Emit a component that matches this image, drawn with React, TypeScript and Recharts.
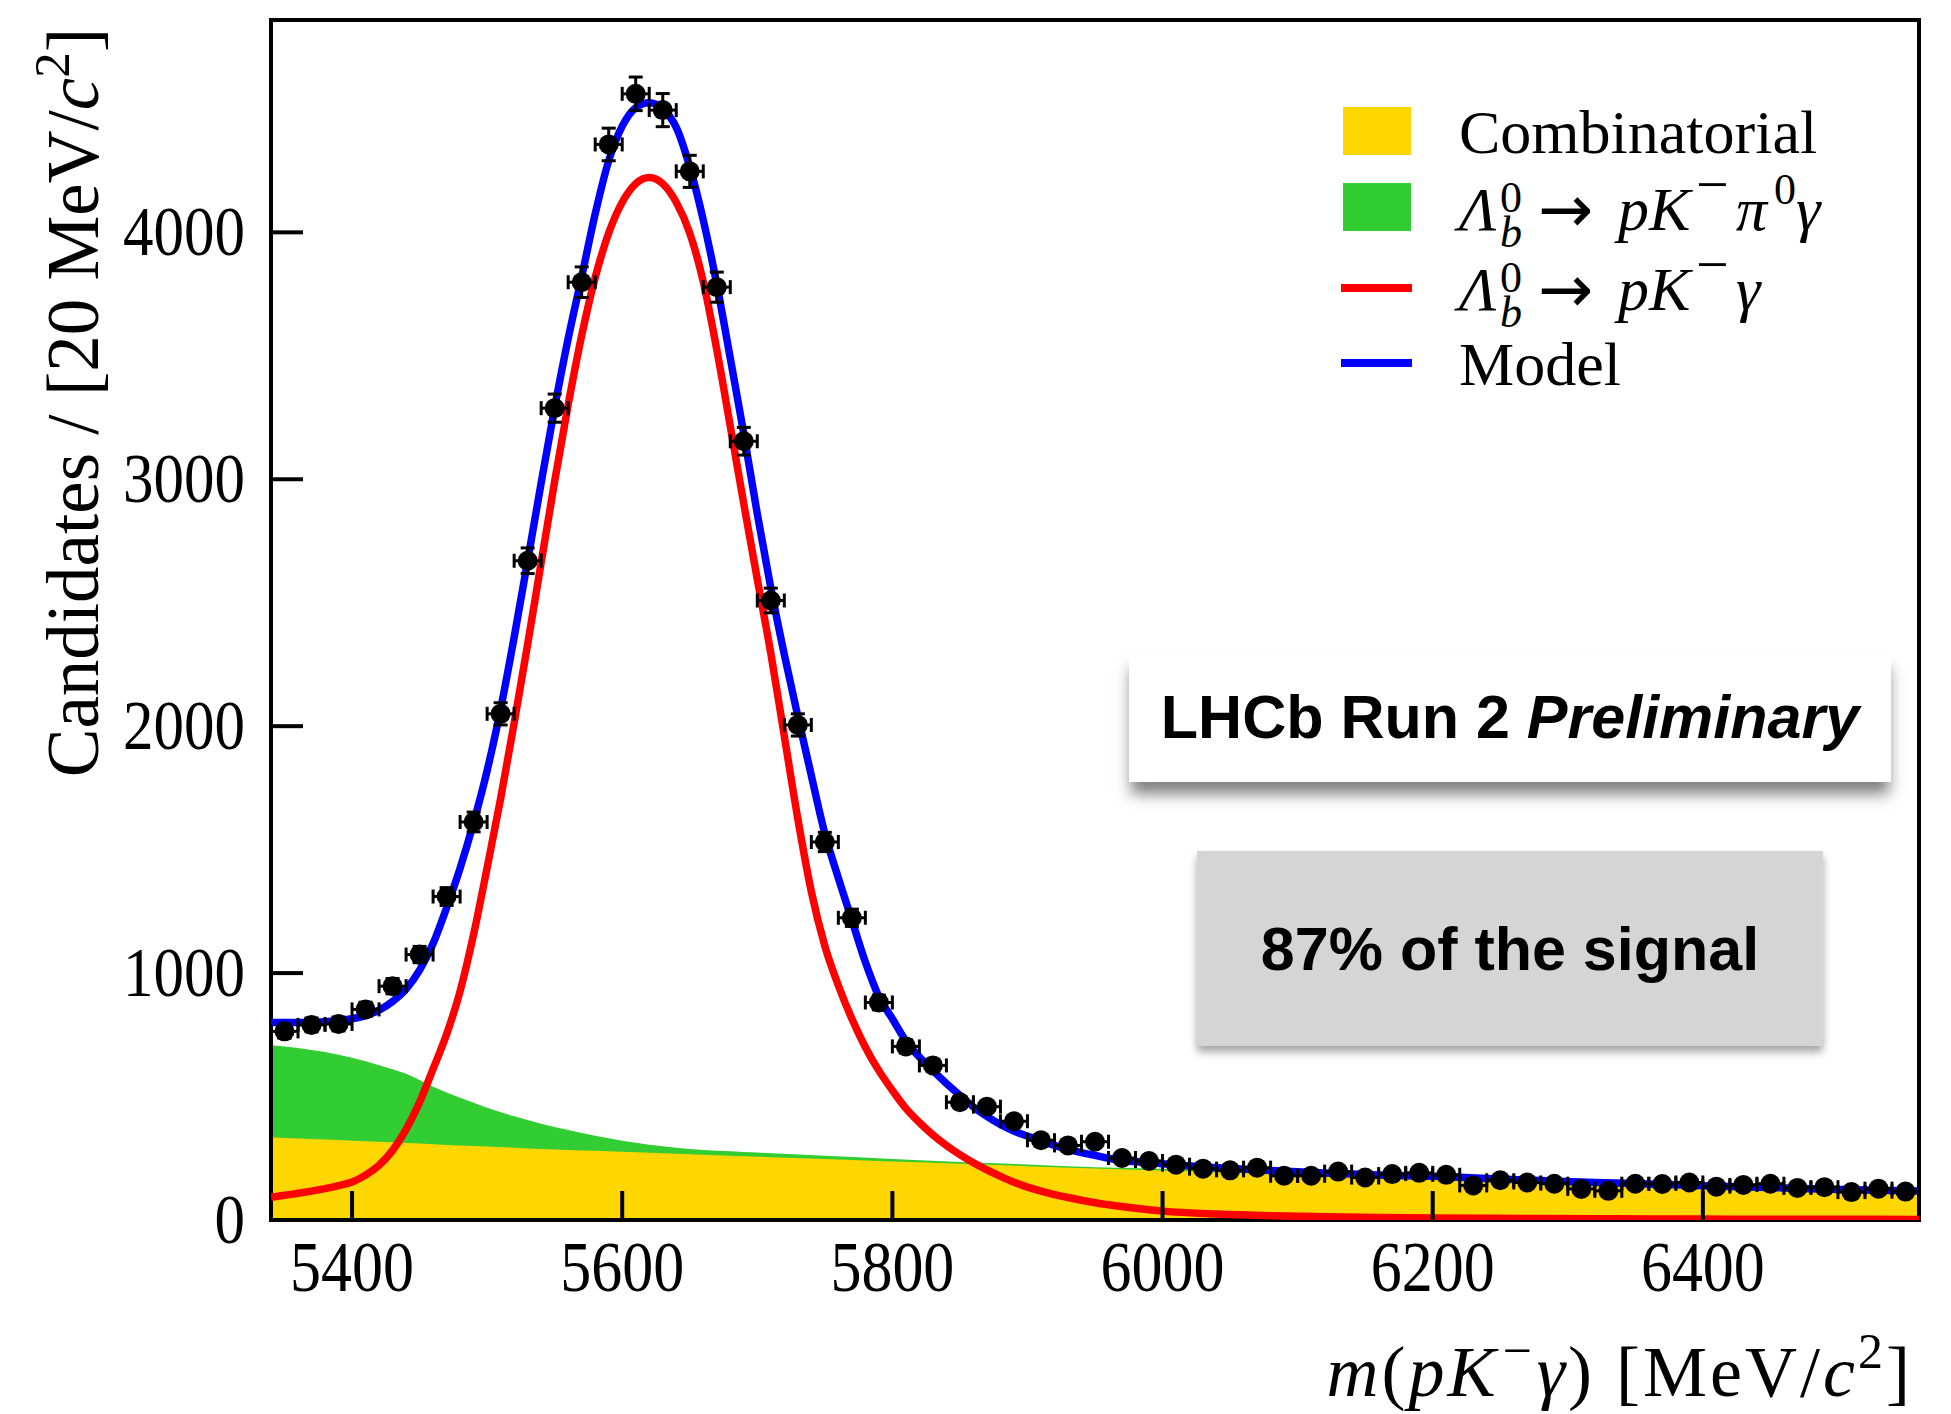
import {
  Area,
  ComposedChart,
  ErrorBar,
  Label,
  Line,
  ReferenceArea,
  Scatter,
  XAxis,
  YAxis,
} from "recharts";

// binned data: bin centres [MeV/c^2], candidates per 20 MeV/c^2, stat. error
const binCentres = [
  5350, 5370, 5390, 5410, 5430, 5450, 5470, 5490, 5510, 5530, 5550, 5570, 5590, 5610, 5630, 5650,
  5670, 5690, 5710, 5730, 5750, 5770, 5790, 5810, 5830, 5850, 5870, 5890, 5910, 5930, 5950, 5970,
  5990, 6010, 6030, 6050, 6070, 6090, 6110, 6130, 6150, 6170, 6190, 6210, 6230, 6250, 6270, 6290,
  6310, 6330, 6350, 6370, 6390, 6410, 6430, 6450, 6470, 6490, 6510, 6530, 6550,
];
const candidates = [
  764, 790, 794, 853, 947, 1075, 1310, 1612, 2050, 2670, 3288, 3798, 4356, 4561, 4495, 4247,
  3778, 3154, 2509, 2005, 1531, 1224, 881, 703, 626, 477, 459, 400, 323, 302, 317, 251,
  239, 224, 208, 201, 212, 179, 179, 196, 172, 186, 191, 183, 140, 161, 152, 147,
  126, 118, 147, 146, 152, 135, 142, 147, 130, 133, 113, 127, 115,
];
const candidateErrors = [
  28, 28, 28, 29, 31, 33, 36, 40, 45, 52, 57, 62, 66, 68, 67, 65,
  61, 56, 50, 45, 39, 35, 30, 27, 25, 22, 21, 20, 18, 17, 18, 16,
  15, 15, 14, 14, 15, 13, 13, 14, 13, 14, 14, 14, 12, 13, 12, 12,
  11, 11, 12, 12, 12, 12, 12, 12, 11, 12, 11, 11, 11,
];
const binHalfWidth = 10;

// fit curves: signal and total model
const curveMass = [
  5340, 5350, 5360, 5370, 5380, 5390, 5400, 5410, 5420, 5430, 5440, 5450, 5460, 5470, 5480, 5490,
  5500, 5510, 5520, 5530, 5540, 5550, 5560, 5570, 5580, 5590, 5600, 5610, 5620, 5630, 5640, 5650,
  5660, 5670, 5680, 5690, 5700, 5710, 5720, 5730, 5740, 5750, 5760, 5770, 5780, 5790, 5800, 5810,
  5820, 5830, 5840, 5850, 5860, 5870, 5880, 5890, 5900, 5910, 5920, 5930, 5940, 5950, 5960, 6000,
  6040, 6080, 6120, 6160, 6200, 6240, 6280, 6320, 6360, 6400, 6440, 6480, 6520, 6560,
];
const signalCurve = [
  92, 100, 108, 117, 127, 139, 154, 182, 222, 282, 367, 477, 612, 752, 927, 1157,
  1427, 1707, 2012, 2332, 2662, 2992, 3302, 3582, 3817, 3997, 4122, 4197, 4222, 4197, 4122, 3997,
  3800, 3525, 3215, 2900, 2595, 2295, 1960, 1625, 1330, 1110, 950, 815, 700, 605, 525, 452,
  395, 345, 302, 265, 232, 203, 177, 153, 133, 117, 103, 91, 80, 70, 62, 36,
  24, 17, 13, 10, 8, 7, 6, 5, 4, 4, 3, 3, 3, 2,
];
const modelCurve = [
  800, 800, 800, 801, 803, 808, 815, 828, 850, 885, 935, 1012, 1120, 1265, 1425, 1610,
  1820, 2070, 2360, 2670, 2985, 3290, 3570, 3820, 4075, 4290, 4430, 4505, 4525, 4500, 4425, 4265,
  4050, 3790, 3490, 3185, 2860, 2560, 2290, 2040, 1800, 1565, 1385, 1215, 1045, 905, 815, 725,
  660, 605, 553, 505, 458, 420, 387, 360, 340, 320, 302, 286, 273, 262, 250, 228,
  212, 200, 190, 182, 177, 168, 160, 152, 146, 139, 133, 127, 121, 117,
];

// background components (stacked): combinatorial and combinatorial + pK-pi0gamma
const bkgMass = [
  5340, 5360, 5380, 5400, 5420, 5440, 5460, 5480, 5500, 5520, 5540, 5560, 5580, 5600, 5620, 5640,
  5660, 5680, 5700, 5750, 5800, 5850, 5900, 5950, 6000, 6100, 6200, 6300, 6400, 6500, 6560,
];
const combinatorialCurve = [
  335, 330, 326, 321, 317, 312, 307, 302, 298, 293, 288, 284, 280, 276, 272, 268,
  264, 260, 256, 247, 237, 228, 218, 209, 200, 184, 168, 152, 136, 119, 110,
];
const partRecoTop = [
  708, 697, 680, 657, 627, 592, 540, 495, 455, 420, 390, 364, 341, 321, 305, 293,
  284, 278, 273, 260, 247, 235, 225, 214, 208, 193, 175, 158, 141, 124, 116,
];

const xTicks = [5400, 5600, 5800, 6000, 6200, 6400];
const yTicks = [0, 1000, 2000, 3000, 4000];

const points = binCentres.map((m, i) => ({
  m,
  n: candidates[i],
  err: candidateErrors[i],
  xerr: binHalfWidth,
}));
const curves = curveMass.map((m, i) => ({ m, signal: signalCurve[i], model: modelCurve[i] }));
const bkg = bkgMass.map((m, i) => ({ m, comb: combinatorialCurve[i], partReco: partRecoTop[i] }));

const SERIF = "'Liberation Serif', 'DejaVu Serif', serif";
const SANS = "'Liberation Sans', Arial, sans-serif";

function MassTick({ x, y, payload }: any) {
  return (
    <g>
      <line x1={x} x2={x} y1={y} y2={y - 29} stroke="#000" strokeWidth={4} />
      <text
        transform={`translate(${x} ${y + 71}) scale(1 1.15)`}
        textAnchor="middle"
        fontFamily={SERIF}
        fontSize={62}
        fill="#000"
      >
        {payload.value}
      </text>
    </g>
  );
}

function CountTick({ x, y, payload }: any) {
  return (
    <g>
      <line x1={x} x2={x + 32} y1={y} y2={y} stroke="#000" strokeWidth={4} />
      <text
        transform={`translate(${x - 26} ${y + 23}) scale(1 1.15)`}
        textAnchor="end"
        fontFamily={SERIF}
        fontSize={61}
        fill="#000"
      >
        {payload.value}
      </text>
    </g>
  );
}

function XTitle({ viewBox }: any) {
  const { x, y, width } = viewBox;
  return (
    <text
      x={x + width - 6}
      y={y + 176}
      textAnchor="end"
      fontFamily={SERIF}
      fontSize={72}
      letterSpacing={3}
      fill="#000"
    >
      <tspan fontStyle="italic">m</tspan>(<tspan fontStyle="italic">pK</tspan>
      <tspan dx={4} dy={-28} fontSize={52}>−</tspan>
      <tspan dx={2} dy={28} fontStyle="italic">γ</tspan>) [MeV/<tspan fontStyle="italic">c</tspan>
      <tspan dy={-28} fontSize={50}>2</tspan>
      <tspan dy={28}>]</tspan>
    </text>
  );
}

function YTitle({ viewBox }: any) {
  const { x, y } = viewBox;
  return (
    <text
      transform={`translate(${x - 172} ${y + 8}) rotate(-90)`}
      textAnchor="end"
      fontFamily={SERIF}
      fontSize={73}
      fill="#000"
    >
      Candidates / [20 MeV/<tspan fontStyle="italic">c</tspan>
      <tspan dy={-29} fontSize={51}>2</tspan>
      <tspan dy={29}>]</tspan>
    </text>
  );
}

function LambdaB({ y }: { y: number }) {
  return (
    <>
      <text x={151} y={y} fontFamily={SERIF} fontSize={62} fontStyle="italic">Λ</text>
      <text x={192} y={y - 18} fontFamily={SERIF} fontSize={44}>0</text>
      <text x={192} y={y + 17} fontFamily={SERIF} fontSize={44} fontStyle="italic">b</text>
      <text x={230} y={y + 2} fontFamily="'DejaVu Sans', sans-serif" fontSize={66}>→</text>
    </>
  );
}

function FitLegend() {
  return (
    <svg
      width={620}
      height={340}
      style={{ position: "absolute", left: 1300, top: 70, overflow: "visible" }}
    >
      <rect x={35} y={29} width={68} height={48} fill="#ffd700" />
      <text x={151} y={75} fontFamily={SERIF} fontSize={62}>Combinatorial</text>

      <rect x={35} y={105} width={68} height={48} fill="#32cd32" />
      <LambdaB y={152} />
      <text y={152} fontFamily={SERIF} fontSize={62} fontStyle="italic">
        <tspan x={310}>pK</tspan>
        <tspan x={388} dy={-26} fontSize={58} fontStyle="normal">−</tspan>
        <tspan x={428} dy={26}>π</tspan>
        <tspan x={466} dy={-26} fontSize={44} fontStyle="normal">0</tspan>
        <tspan x={488} dy={26}>γ</tspan>
      </text>

      <line x1={33} x2={104} y1={210} y2={210} stroke="#ff0000" strokeWidth={8} />
      <LambdaB y={232} />
      <text y={232} fontFamily={SERIF} fontSize={62} fontStyle="italic">
        <tspan x={310}>pK</tspan>
        <tspan x={388} dy={-26} fontSize={58} fontStyle="normal">−</tspan>
        <tspan x={428} dy={26}>γ</tspan>
      </text>

      <line x1={33} x2={104} y1={285} y2={285} stroke="#0000ff" strokeWidth={8} />
      <text x={151} y={307} fontFamily={SERIF} fontSize={62}>Model</text>
    </svg>
  );
}

export default function App() {
  return (
    <div style={{ position: "relative", width: 1935, height: 1406 }}>
      <ComposedChart width={1935} height={1406} margin={{ top: 12, right: 24, bottom: 193, left: 262 }}>
        <Area
          data={bkg}
          dataKey="partReco"
          type="monotone"
          fill="#32cd32"
          fillOpacity={1}
          stroke="none"
          isAnimationActive={false}
        />
        <Area
          data={bkg}
          dataKey="comb"
          type="monotone"
          fill="#ffd700"
          fillOpacity={1}
          stroke="none"
          isAnimationActive={false}
        />
        <Line
          data={curves}
          dataKey="signal"
          type="monotone"
          stroke="#ff0000"
          strokeWidth={7.5}
          dot={false}
          activeDot={false}
          isAnimationActive={false}
        />
        <Line
          data={curves}
          dataKey="model"
          type="monotone"
          stroke="#0000ff"
          strokeWidth={7.5}
          dot={false}
          activeDot={false}
          isAnimationActive={false}
        />
        <Scatter
          data={points}
          dataKey="n"
          isAnimationActive={false}
          shape={(p: any) => <circle cx={p.cx} cy={p.cy} r={10} fill="#000" />}
        >
          <ErrorBar dataKey="xerr" direction="x" width={7} stroke="#000" strokeWidth={3} />
          <ErrorBar dataKey="err" direction="y" width={7} stroke="#000" strokeWidth={3} />
        </Scatter>
        <ReferenceArea
          x1={5340}
          x2={6560}
          y1={0}
          y2={4860}
          fill="none"
          fillOpacity={0}
          stroke="#000"
          strokeWidth={4}
          strokeOpacity={1}
        />
        <XAxis
          dataKey="m"
          type="number"
          domain={[5340, 6560]}
          allowDataOverflow
          ticks={xTicks}
          height={1}
          tickSize={0}
          tickMargin={0}
          tickLine={false}
          axisLine={false}
          tick={(p: any) => <MassTick {...p} />}
        >
          <Label content={(p: any) => <XTitle {...p} />} />
        </XAxis>
        <YAxis
          dataKey="n"
          type="number"
          domain={[0, 4860]}
          allowDataOverflow
          ticks={yTicks}
          width={1}
          tickSize={0}
          tickMargin={0}
          tickLine={false}
          axisLine={false}
          tick={(p: any) => <CountTick {...p} />}
        >
          <Label content={(p: any) => <YTitle {...p} />} />
        </YAxis>
      </ComposedChart>

      <FitLegend />

      <div
        style={{
          position: "absolute",
          left: 1121,
          top: 644,
          width: 762,
          height: 130,
          background: "#fff",
          boxShadow: "0 14px 14px -2px rgba(0,0,0,0.5)",
          display: "flex",
          alignItems: "center",
          justifyContent: "center",
          fontFamily: SANS,
          fontWeight: 700,
          fontSize: 61,
          color: "#000",
          whiteSpace: "nowrap",
        }}
      >
        LHCb Run 2&nbsp;<i>Preliminary</i>
      </div>

      <div
        style={{
          position: "absolute",
          left: 1189,
          top: 843,
          width: 626,
          height: 195,
          background: "#d5d5d5",
          boxShadow: "0 6px 8px rgba(0,0,0,0.35)",
          display: "flex",
          alignItems: "center",
          justifyContent: "center",
          fontFamily: SANS,
          fontWeight: 700,
          fontSize: 61,
          color: "#000",
          whiteSpace: "nowrap",
        }}
      >
        87% of the signal
      </div>
    </div>
  );
}
